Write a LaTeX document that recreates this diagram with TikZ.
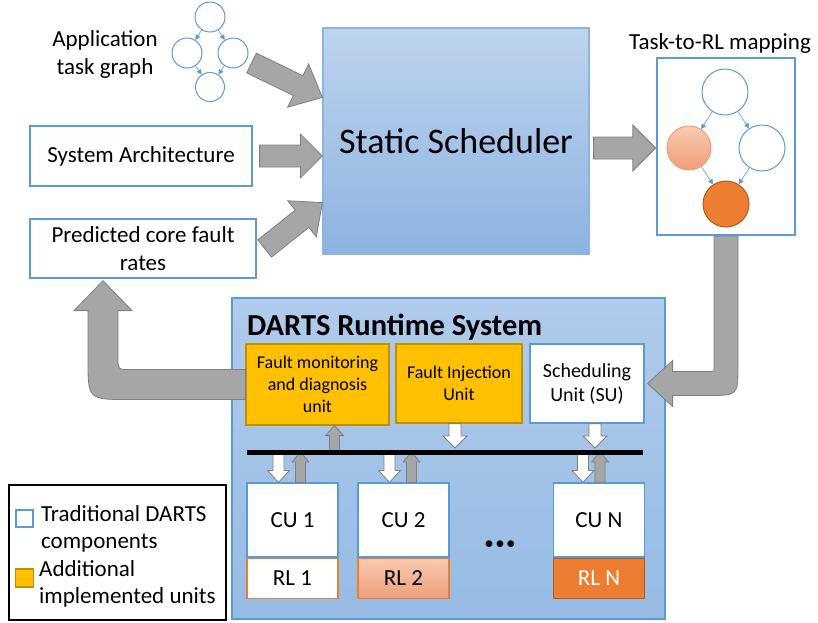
\documentclass[tikz,border=0pt]{standalone}
\usepackage{fontspec}
\setmainfont{Carlito}
\usepackage{xcolor}
\usepackage{tikz}
\usetikzlibrary{positioning,calc,arrows.meta}

\definecolor{dblue}{RGB}{91,155,213}
\definecolor{unitorange}{RGB}{255,192,0}
\definecolor{unitedge}{RGB}{191,144,0}
\definecolor{rlorange}{RGB}{237,125,49}
\definecolor{rledge}{RGB}{174,90,33}
\definecolor{salmontop}{RGB}{248,202,178}
\definecolor{salmonbot}{RGB}{238,158,122}
\definecolor{barfill}{RGB}{166,166,166}
\definecolor{baredge}{RGB}{127,127,127}
\definecolor{schedtop}{RGB}{190,212,238}
\definecolor{schedbot}{RGB}{141,179,225}
\definecolor{dartstop}{RGB}{176,203,235}
\definecolor{dartsbot}{RGB}{150,187,228}

\newcommand\bigtxt{\fontsize{23}{28}\selectfont}
\newcommand\unittxt{\fontsize{18}{22}\selectfont}
\newcommand\sutxt{\fontsize{20}{24}\selectfont}
\newcommand\schedtxt{\fontsize{36}{40}\selectfont}
\newcommand\dartstitle{\fontsize{30.5}{34}\selectfont\bfseries}

% block arrow: [style]{from}{to}{shaft half width}{head half width}{head length}
\newcommand\blockarrow[6][graybar]{%
  \coordinate (ba) at ($(#3)!#6pt!(#2)$);
  \draw[#1] ($(#2)!#4pt!90:(#3)$) -- ($(ba)!#4pt!90:(#3)$) -- ($(ba)!#5pt!90:(#3)$) -- (#3)
    -- ($(ba)!#5pt!-90:(#3)$) -- ($(ba)!#4pt!-90:(#3)$) -- ($(#2)!#4pt!-90:(#3)$) -- cycle;}

\tikzset{
	tasknode/.style={circle, draw=dblue, line width=1pt, fill=white, inner sep=0pt},
	rectnode/.style={rectangle, draw=dblue, line width=1.2pt, fill=white, align=center, inner sep=0pt},
	addnode/.style={rectangle, draw=unitedge, line width=1.2pt, fill=unitorange, align=center, inner sep=0pt},
	rlnode/.style={rectangle, draw=rlorange, line width=1.5pt, inner sep=0pt, minimum width=91pt, minimum height=40pt, font=\bigtxt},
	graybar/.style={draw=baredge, fill=barfill, line width=0.8pt},
	whitebar/.style={draw=baredge, fill=white, line width=0.8pt},
	tgarrow/.style={draw=dblue, line width=0.6pt, -{Triangle[length=5pt,width=5pt]}}
}

\begin{document}
\begin{tikzpicture}[x=1pt, y=-1pt]
	\useasboundingbox (0,0) rectangle (818,622);

	% inputs of the static scheduler
	\node[align=center, font=\bigtxt] (applabel) at (105,54) {Application\\task graph};
	\node[tasknode, minimum size=30pt] (ta) at (210,17) {};
	\node[tasknode, minimum size=30pt] (tb) at (187,53) {};
	\node[tasknode, minimum size=30pt] (tc) at (233,53) {};
	\node[tasknode, minimum size=29pt] (td) at (210,87) {};
	\draw[tgarrow] (ta) -- (tb);
	\draw[tgarrow] (ta) -- (tc);
	\draw[tgarrow] (tb) -- (td);
	\draw[tgarrow] (tc) -- (td);

	\node[rectnode, minimum width=266pt, minimum height=226pt, draw=schedbot, top color=schedtop, bottom color=schedbot, font=\schedtxt] (sched) at (456,141) {Static Scheduler};
	\node[rectnode, minimum width=222pt, minimum height=60pt, font=\bigtxt] (arch) at (141,156) {System Architecture};
	\node[rectnode, minimum width=226pt, minimum height=59pt, font=\bigtxt] (pred) at (143,248.5) {Predicted core fault\\rates};

	% mapping
	\node[font=\bigtxt] (maplabel) at (720,43) {Task-to-RL mapping};
	\node[rectnode, line width=2.5pt, minimum width=138pt, minimum height=177pt] (map) at (726,146.5) {};
	\node[tasknode, minimum size=46pt] (m1) at (725,92) {};
	\node[tasknode, minimum size=44pt, draw=salmonbot, top color=salmontop, bottom color=salmonbot] (m2) at (689,148) {};
	\node[tasknode, minimum size=46pt] (m3) at (762,148) {};
	\node[tasknode, minimum size=46pt, draw=rledge, fill=rlorange] (m4) at (726,204) {};
	\draw[tgarrow] (m1) -- (m2);
	\draw[tgarrow] (m1) -- (m3);
	\draw[tgarrow] (m2) -- (m4);
	\draw[tgarrow] (m3) -- (m4);

	\coordinate (appout) at ($(tc.east)+(3,10)$);
	\coordinate (schedin1) at ($(sched.north west)+(0,70)$);
	\blockarrow{appout}{schedin1}{11}{24}{27}
	\coordinate (archout) at ($(arch.east)+(7,0)$);
	\coordinate (schedin2) at (arch.east -| sched.west);
	\blockarrow{archout}{schedin2}{11}{22}{22}
	\coordinate (predout) at ($(pred.east)+(8,0)$);
	\coordinate (schedin3) at ($(sched.south west)+(0,-52)$);
	\blockarrow{predout}{schedin3}{11}{23}{26}
	\coordinate (schedout) at ($(sched.east)+(4,7)$);
	\coordinate (mapin) at (schedout -| map.west);
	\blockarrow{schedout}{mapin}{11}{23}{23}

	% runtime system
	\node[rectnode, minimum width=433pt, minimum height=321pt, top color=dartstop, bottom color=dartsbot] (darts) at (448.5,458.5) {};
	\node[anchor=base west, inner sep=0pt, font=\dartstitle] (title) at (247,335) {DARTS Runtime System};
	\node[addnode, minimum width=143pt, minimum height=81pt, font=\unittxt] (fmd) at (317.5,384.5) {Fault monitoring\\and diagnosis\\unit};
	\node[addnode, minimum width=126pt, minimum height=79pt, font=\unittxt] (fiu) at (459,383.5) {Fault Injection\\Unit};
	\node[rectnode, minimum width=114pt, minimum height=79pt, font=\sutxt] (su) at (587,383.5) {Scheduling\\Unit (SU)};

	\coordinate (bendsu) at (map.south |- su.east);
	\draw[graybar] ($(map.south)+(-12,0)$) -- ($(bendsu)+(-12,-14)$) .. controls ($(bendsu)+(-12,-12)$) .. ($(bendsu)+(-14,-12)$)
		-- ($(su.east)+(28,-12)$) -- ($(su.east)+(28,-23)$) -- ($(su.east)+(3,0)$) -- ($(su.east)+(28,23)$) -- ($(su.east)+(28,12)$)
		-- ($(bendsu)+(-18,12)$) .. controls ($(bendsu)+(12,12)$) .. ($(bendsu)+(12,-18)$) -- ($(map.south)+(12,0)$) -- cycle;

	\coordinate (fbtip) at ($(pred.south)+(-40,2)$);
	\coordinate (bendfb) at (fbtip |- fmd.west);
	\draw[graybar] ($(fmd.west)+(0,-15)$) -- ($(bendfb)+(27,-15)$) .. controls ($(bendfb)+(15,-15)$) .. ($(bendfb)+(15,-27)$)
		-- ($(fbtip)+(15,30)$) -- ($(fbtip)+(29,30)$) -- (fbtip) -- ($(fbtip)+(-29,30)$) -- ($(fbtip)+(-15,30)$)
		-- ($(bendfb)+(-15,-25)$) .. controls ($(bendfb)+(-15,15)$) .. ($(bendfb)+(25,15)$) -- ($(fmd.west)+(0,15)$) -- cycle;

	\node[rectnode, minimum width=91pt, minimum height=74pt, font=\bigtxt] (cu1) at (292.5,520) {CU 1};
	\node[rectnode, minimum width=91pt, minimum height=74pt, font=\bigtxt] (cu2) at (403.5,520) {CU 2};
	\node[rectnode, minimum width=91pt, minimum height=74pt, font=\bigtxt] (cun) at (599,520) {CU N};
	\node[rlnode, fill=white, below=0pt of cu1] (rl1) {RL 1};
	\node[rlnode, top color=salmontop, bottom color=salmonbot, below=0pt of cu2] (rl2) {RL 2};
	\node[rlnode, draw=rledge, fill=rlorange, text=white, below=0pt of cun] (rln) {RL N};
	\node[font=\fontsize{19}{22}\selectfont] (dots) at (500,545) {\textbullet\kern1.5pt\textbullet\kern1.5pt\textbullet};

	\coordinate (busL) at (247,452);
	\coordinate (busR) at (643,452);

	\coordinate (fmdup) at ($(fmd.south)+(17,0)$);
	\coordinate (fmdbus) at (fmdup |- busL);
	\blockarrow{fmdbus}{fmdup}{5}{9}{10}
	\coordinate (fiudown) at ($(fiu.south)+(-4,0)$);
	\coordinate (fiubus) at ($(fiu.south |- busL)+(-4,-4)$);
	\blockarrow[whitebar]{fiudown}{fiubus}{6}{12}{12}
	\coordinate (sudown) at ($(su.south)+(8,0)$);
	\coordinate (subus) at ($(su.south |- busL)+(8,-4)$);
	\blockarrow[whitebar]{sudown}{subus}{6}{12}{12}

	\foreach \c/\dw/\dg in {cu1/-14/8, cu2/-14/8, cun/-16/1} {
		\coordinate (\c-wt) at ($(\c.north)+(\dw,0)$);
		\coordinate (\c-wb) at (\c-wt |- busL);
		\coordinate (\c-gt) at ($(\c.north)+(\dg,0)$);
		\coordinate (\c-gb) at (\c-gt |- busL);
		\blockarrow[whitebar]{\c-wb}{\c-wt}{5.5}{11}{12}
		\blockarrow{\c-gt}{\c-gb}{5}{8.5}{10}
	}
	\draw[line width=5pt] (busL) -- (busR);

	% legend
	\node[draw=black, line width=1.5pt, minimum width=217pt, minimum height=135pt] (legend) at (117.5,552.5) {};
	\node[rectnode, minimum size=17pt] (legtrad) at (24.5,518.5) {};
	\node[addnode, minimum size=18pt] (legadd) at (24.5,578) {};
	\node[anchor=west, align=left, inner sep=0pt, font=\fontsize{23}{27}\selectfont] (legtradtxt) at (41,528.5) {Traditional DARTS\\components};
	\node[anchor=west, align=left, inner sep=0pt, font=\fontsize{23}{27}\selectfont] (legaddtxt) at (39,584) {Additional\\implemented units};
\end{tikzpicture}
\end{document}
